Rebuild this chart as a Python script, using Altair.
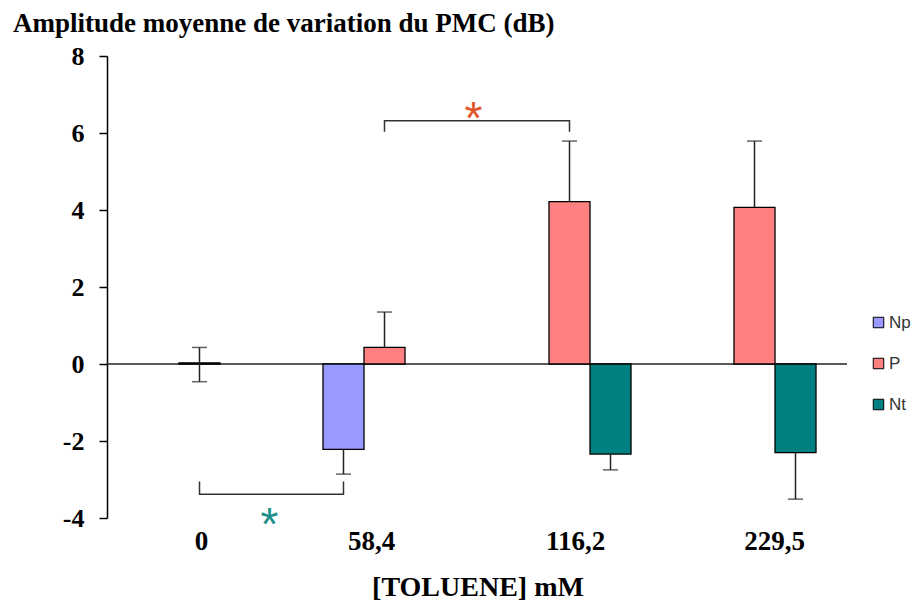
import altair as alt
import pandas as pd

# ---------------- data ----------------
categories = ["0", "58,4", "116,2", "229,5"]
series = ["Np", "P", "Nt"]
colors = ["#9999ff", "#ff8080", "#008080"]

bar_cat = ["0", "58,4", "58,4", "116,2", "116,2", "229,5", "229,5"]
bar_series = ["P", "Np", "P", "P", "Nt", "P", "Nt"]
bar_value = [0.03, -2.22, 0.43, 4.22, -2.34, 4.07, -2.30]
err_low = [-0.46, -2.86, 0.43, 4.22, -2.75, 4.07, -3.51]
err_high = [0.43, -2.22, 1.35, 5.79, -2.34, 5.79, -2.30]

bracket_id = ["a", "a", "a", "a", "b", "b", "b", "b"]
bracket_cat = ["0", "0", "58,4", "58,4", "58,4", "58,4", "116,2", "116,2"]
bracket_series = ["P", "P", "Np", "Np", "P", "P", "P", "P"]
bracket_y = [-3.05, -3.38, -3.38, -3.05, 6.03, 6.32, 6.32, 6.03]
bracket_order = [0, 1, 2, 3, 0, 1, 2, 3]

star_cat = ["0", "58,4"]
star_series = ["Nt", "Nt"]
star_y = [-3.84, 6.70]
star_colors = ["#1f8f8a", "#e2572a"]
star_dx = [29, 48]

y_ticks = [-4, -2, 0, 2, 4, 6, 8]
y_title = "Amplitude moyenne de variation du PMC (dB)"
x_title = "[TOLUENE] mM"

# ---------------- tables ----------------
bars = pd.DataFrame({"cat": bar_cat, "s": bar_series, "v": bar_value,
                     "lo": err_low, "hi": err_high})
caps_rows = []
for c, s, v, lo, hi in zip(bar_cat, bar_series, bar_value, err_low, err_high):
    for e in (lo, hi):
        if e != v:
            caps_rows.append({"cat": c, "s": s, "v": e})
caps = pd.DataFrame(caps_rows)
brackets = pd.DataFrame({"id": bracket_id, "cat": bracket_cat, "s": bracket_series,
                         "v": bracket_y, "o": bracket_order})
zero = pd.DataFrame({"v": [0]})
xt = pd.DataFrame({"t": [x_title]})
yt = pd.DataFrame({"t": [y_title]})

SERIF = "Liberation Serif"
SANS = "Liberation Sans"

xscale = alt.Scale(domain=categories, paddingInner=0.335, paddingOuter=0.1675)
oscale = alt.Scale(domain=series, paddingInner=0, paddingOuter=0)
yscale = alt.Scale(domain=[-4, 8], nice=False, zero=False)

xaxis = alt.Axis(domain=False, ticks=False, labelAngle=0, labelFont=SERIF,
                 labelFontWeight="bold", labelFontSize=27, labelColor="black",
                 labelPadding=10,
                 labelOffset={"condition": [
                     {"test": "datum.label == '58,4'", "value": -13},
                     {"test": "datum.label == '116,2'", "value": 6},
                     {"test": "datum.label == '229,5'", "value": 20}],
                     "value": 2})
yaxis = alt.Axis(values=y_ticks, grid=False, domainColor="black", domainWidth=1.5,
                 tickColor="black", tickWidth=1.5, tickSize=8, labelPadding=15,
                 labelFont=SERIF, labelFontWeight="bold", labelFontSize=26,
                 labelColor="black", labelExpr="datum.value + ''")


def X():
    return alt.X("cat:N", scale=xscale, sort=categories, axis=xaxis, title=None)


def XO():
    return alt.XOffset("s:N", scale=oscale, sort=series)


def Y(field):
    return alt.Y(field + ":Q", scale=yscale, axis=yaxis, title=None)


zero_rule = alt.Chart(zero).mark_rule(color="#222", strokeWidth=1.5).encode(y=Y("v"))

bar_layer = alt.Chart(bars).mark_bar(stroke="black", strokeWidth=1.3).encode(
    x=X(), xOffset=XO(), y=Y("v"),
    color=alt.Color("s:N", scale=alt.Scale(domain=series, range=colors),
                    legend=alt.Legend(title=None, orient="none", legendX=763,
                                      legendY=258, symbolType="square",
                                      symbolSize=110, symbolStrokeColor="black",
                                      symbolStrokeWidth=1, labelFont=SANS,
                                      labelFontSize=17, labelColor="#333",
                                      rowPadding=23, labelOffset=2)),
)

err_layer = alt.Chart(bars).mark_rule(color="#222", strokeWidth=1.5).encode(
    x=X(), xOffset=XO(), y=Y("lo"), y2="hi:Q")

cap_layer = alt.Chart(caps).mark_tick(color="#222", thickness=1.5, size=15).encode(
    x=X(), xOffset=XO(), y=Y("v"))

bracket_layer = alt.Chart(brackets).mark_line(color="#333", strokeWidth=1.5).encode(
    x=X(), xOffset=XO(), y=Y("v"), detail="id:N", order="o:Q")

star_layers = []
for c, s, v, col, dx in zip(star_cat, star_series, star_y, star_colors, star_dx):
    df = pd.DataFrame({"cat": [c], "s": [s], "v": [v], "t": ["*"]})
    star_layers.append(
        alt.Chart(df).mark_text(font=SANS, fontSize=46, color=col, dx=dx, dy=14,
                                baseline="middle", align="center").encode(
            x=X(), xOffset=XO(), y=Y("v"), text="t:N"))

xtitle_layer = alt.Chart(xt).mark_text(
    font=SERIF, fontWeight="bold", fontSize=28, color="black",
    align="center", baseline="alphabetic").encode(
    x=alt.value(371), y=alt.value(540), text="t:N")

ytitle_layer = alt.Chart(yt).mark_text(
    font=SERIF, fontWeight="bold", fontSize=27, color="black",
    align="left", baseline="alphabetic").encode(
    x=alt.value(-94), y=alt.value(-24), text="t:N")

chart = alt.layer(zero_rule, bar_layer, err_layer, cap_layer, bracket_layer,
                  *star_layers, xtitle_layer, ytitle_layer).properties(
    width=740, height=462,
    autosize=alt.AutoSizeParams(type="none"),
    padding={"left": 99, "top": 48, "right": 69, "bottom": 85},
).configure(
    background="white",
    view=alt.ViewConfig(stroke=None),
)

chart.save("out.html", embed_options={"renderer": "svg", "actions": False})
